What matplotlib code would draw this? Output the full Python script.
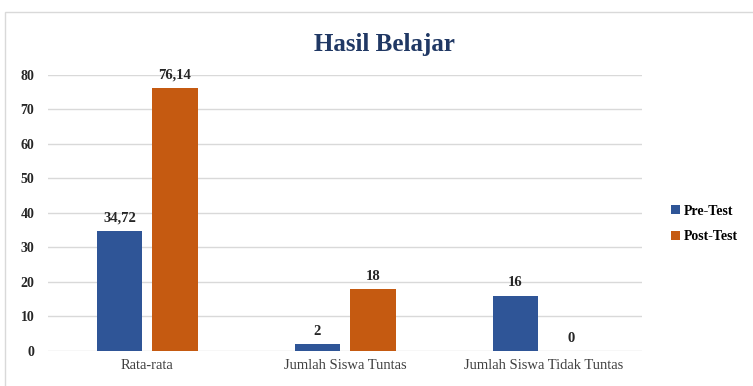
import numpy as np
import matplotlib.pyplot as plt
from matplotlib.patches import Rectangle

# Daten
categories = ["Rata-rata", "Jumlah Siswa Tuntas", "Jumlah Siswa Tidak Tuntas"]
pre_test = [34.72, 2, 16]
post_test = [76.14, 18, 0]
series_names = ["Pre-Test", "Post-Test"]

def fmt(v):
    # Komma als Dezimaltrennzeichen
    if float(v).is_integer():
        return f"{int(v)}"
    return f"{v:.2f}".replace(".", ",")

plt.rcParams["font.family"] = ["Liberation Serif", "DejaVu Serif"]

fig = plt.figure(figsize=(7.53, 3.86), dpi=100)
ax = fig.add_axes([0.064, 0.091, 0.789, 0.715])

# Rahmen um das Diagramm
fig.patches.append(Rectangle((0.007, -0.01), 1.0, 0.98, transform=fig.transFigure,
                             fill=False, edgecolor="#D9D9D9", linewidth=1.0))

x = np.arange(len(categories))
w = 0.23
off = 0.14
b1 = ax.bar(x - off, pre_test, w, color="#2F5597", label=series_names[0], zorder=3)
b2 = ax.bar(x + off, post_test, w, color="#C55A11", label=series_names[1], zorder=3)

for bars in (b1, b2):
    for rect in bars:
        h = rect.get_height()
        ax.text(rect.get_x() + rect.get_width() / 2, h + 1.8, fmt(h),
                ha="center", va="bottom", fontsize=10.5, fontweight="bold", color="#262626")

ax.set_xlim(-0.5, 2.5)
ax.set_ylim(0, 80)
ax.set_yticks(range(0, 81, 10))
ax.set_xticks(x)
ax.set_xticklabels(categories, fontsize=10.5, color="#404040")
ax.tick_params(axis="y", labelsize=10, length=0, pad=10)
ax.tick_params(axis="x", length=0, pad=6)
for lab in ax.get_yticklabels():
    lab.set_fontweight("bold")
    lab.set_color("#262626")
ax.grid(axis="y", color="#D9D9D9", linewidth=1.0, zorder=0)
for s in ax.spines.values():
    s.set_visible(False)

fig.text(0.511, 0.885, "Hasil Belajar", ha="center", va="center",
         fontsize=18, fontweight="bold", color="#203864")

leg = fig.legend(handles=[b1, b2], loc="center left", bbox_to_anchor=(0.875, 0.42),
                 frameon=False, prop={"weight": "bold", "size": 10},
                 handlelength=0.6, handleheight=0.6, handletextpad=0.3, labelspacing=0.9)

plt.savefig("out.png", dpi=100)
